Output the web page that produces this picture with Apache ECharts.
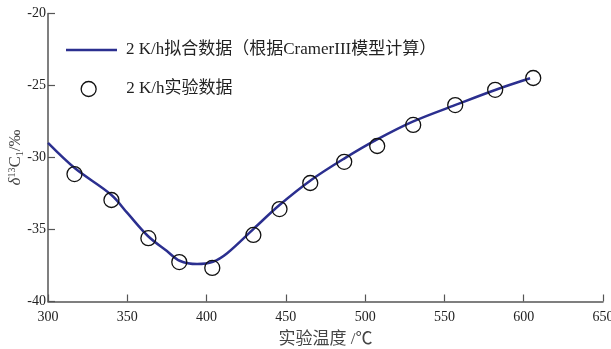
<!DOCTYPE html>
<html>
<head>
<meta charset="utf-8">
<script src="https://cdn.jsdelivr.net/npm/echarts@6/dist/echarts.min.js"></script>
<style>
  html, body { margin: 0; padding: 0; background: #fff; }
  #chart { width: 611px; height: 349px; }
</style>
</head>
<body>
<div id="chart"></div>
<script>
// Fitted curve (CramerIII model), temperature in °C vs δ13C1 in ‰
const fitTemp = [300, 317, 340, 350, 363, 375, 383, 394, 404, 413, 430, 446, 466, 487, 507, 530, 557, 582, 604];
const fitValue = [-28.99, -30.75, -32.6, -33.85, -35.45, -36.5, -37.17, -37.4, -37.24, -36.65, -34.92, -33.3, -31.56, -30.06, -28.78, -27.51, -26.35, -25.31, -24.5];

// Measured points at 2 K/h
const expTemp = [316.7, 340, 363.3, 382.8, 403.6, 429.5, 446, 465.4, 486.8, 507.6, 530.3, 556.8, 582, 606];
const expValue = [-31.15, -32.95, -35.6, -37.26, -37.67, -35.38, -33.58, -31.77, -30.3, -29.2, -27.74, -26.36, -25.3, -24.48];

const seriesNames = ['2 K/h拟合数据（根据CramerIII模型计算）', '2 K/h实验数据'];
const xTicks = { min: 300, max: 650, interval: 50 };
const yTicks = { min: -40, max: -20, interval: 5 };

const FONT = '"Liberation Serif", "Noto Sans CJK SC", serif';
const axisColor = '#555';
const lineColor = '#2b2f8f';

const chart = echarts.init(document.getElementById('chart'), null, { renderer: 'canvas' });

chart.setOption({
  animation: false,
  backgroundColor: '#fff',
  grid: { left: 48, right: 8, top: 13.5, bottom: 47.5, containLabel: false, outerBoundsMode: 'none' },
  legend: [
    {
      left: 66,
      top: 41.5,
      padding: 0,
      icon: 'rect',
      itemWidth: 51,
      itemHeight: 2.5,
      textStyle: { fontFamily: FONT, fontSize: 17, color: '#222', padding: [0, 0, 0, 4] },
      data: [{ name: seriesNames[0], itemStyle: { color: lineColor } }]
    },
    {
      left: 80.5,
      top: 80.5,
      padding: 0,
      itemWidth: 15,
      itemHeight: 15,
      textStyle: { fontFamily: FONT, fontSize: 17, color: '#222', padding: [0, 0, 0, 25] },
      data: [{ name: seriesNames[1], icon: 'circle', itemStyle: { color: 'rgba(0,0,0,0)', borderColor: '#111', borderWidth: 1.3 } }]
    }
  ],
  xAxis: {
    type: 'value',
    min: xTicks.min,
    max: xTicks.max,
    interval: xTicks.interval,
    name: '实验温度 /℃',
    nameLocation: 'middle',
    nameGap: 30,
    nameMoveOverlap: false,
    nameTextStyle: { fontFamily: FONT, fontSize: 17, color: '#444' },
    axisLine: { lineStyle: { color: axisColor, width: 1.5 } },
    axisTick: { inside: true, length: 7, lineStyle: { color: axisColor, width: 1.2 } },
    axisLabel: { margin: 9, fontFamily: FONT, fontSize: 14, color: '#222' },
    splitLine: { show: false }
  },
  yAxis: {
    type: 'value',
    min: yTicks.min,
    max: yTicks.max,
    interval: yTicks.interval,
    name: '{d|δ}{sup|13}{c|C}{sub|1}{c|/‰}',
    nameLocation: 'middle',
    nameRotate: 90,
    nameGap: 23,
    nameMoveOverlap: false,
    nameTextStyle: {
      fontFamily: FONT,
      color: '#444',
      rich: {
        d: { fontFamily: FONT, fontSize: 17, fontStyle: 'italic', color: '#444' },
        sup: { fontFamily: FONT, fontSize: 10, color: '#444', verticalAlign: 'bottom', padding: [0, 0, 8, 0] },
        c: { fontFamily: FONT, fontSize: 17, color: '#444' },
        sub: { fontFamily: FONT, fontSize: 10, color: '#444', verticalAlign: 'top', padding: [8, 0, 0, 0] }
      }
    },
    axisLine: { show: true, lineStyle: { color: axisColor, width: 1.5 } },
    axisTick: { show: true, inside: true, length: 7, lineStyle: { color: axisColor, width: 1.2 } },
    axisLabel: { margin: 2, fontFamily: FONT, fontSize: 14, color: '#222' },
    splitLine: { show: false }
  },
  series: [
    {
      name: seriesNames[0],
      type: 'line',
      data: fitTemp.map((t, i) => [t, fitValue[i]]),
      smooth: 0.35,
      symbol: 'none',
      color: lineColor,
      lineStyle: { color: lineColor, width: 2.5 },
      z: 2
    },
    {
      name: seriesNames[1],
      type: 'scatter',
      data: expTemp.map((t, i) => [t, expValue[i]]),
      symbol: 'circle',
      symbolSize: 15,
      color: '#111',
      itemStyle: { color: 'rgba(0,0,0,0)', borderColor: '#111', borderWidth: 1.3, opacity: 1 },
      z: 3
    }
  ]
});
</script>
</body>
</html>
